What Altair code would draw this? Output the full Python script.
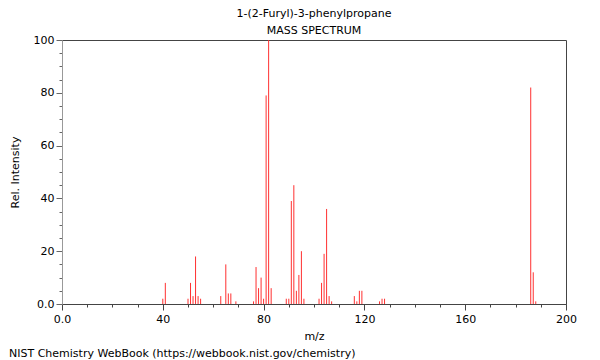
import altair as alt
import pandas as pd

mz = [40, 41, 50, 51, 52, 53, 54, 55, 63, 65, 66, 67, 69, 76, 77, 78, 79, 80, 81, 82, 83,
      89, 90, 91, 92, 93, 94, 95, 96, 102, 103, 104, 105, 106, 107, 116, 117, 118, 119,
      126, 127, 128, 186, 187, 188]
intensity = [2, 8, 2, 8, 3, 18, 3, 2, 3, 15, 4, 4, 1, 1, 14, 6, 10, 2, 79, 100, 6,
             2, 2, 39, 45, 5, 11, 20, 2, 2, 8, 19, 36, 3, 1, 3, 1, 5, 5,
             1, 2, 2, 82, 12, 1]

title_main = "1-(2-Furyl)-3-phenylpropane"
title_sub = "MASS SPECTRUM"
footer = "NIST Chemistry WebBook (https://webbook.nist.gov/chemistry)"

df = pd.DataFrame({"mz": mz, "intensity": intensity})
FONT = "DejaVu Sans"

x_axis = alt.Axis(
    values=list(range(0, 201, 10)),
    labelExpr="datum.value == 0 ? '0.0' : (datum.value % 40 == 0 ? datum.label : '')",
    tickSize={"condition": {"test": "datum.value % 40 == 0", "value": 6}, "value": 3},
    grid=False, domainColor="#444", tickColor="#444", labelFont=FONT, labelFontSize=11,
    labelColor="#000", titleFont=FONT, titleFontSize=11, titleFontWeight="normal",
    titleColor="#000", labelPadding=3, titlePadding=6, labelFlush=False,
)
y_axis = alt.Axis(
    values=list(range(0, 101, 5)),
    labelExpr="datum.value == 0 ? '0.0' : (datum.value % 20 == 0 ? datum.label : '')",
    tickSize={"condition": {"test": "datum.value % 20 == 0", "value": 6}, "value": 3},
    grid=False, domainColor="#999", tickColor="#666", labelFont=FONT, labelFontSize=11,
    labelColor="#000", titleFont=FONT, titleFontSize=11, titleFontWeight="normal",
    titleColor="#000", labelPadding=2, titlePadding=13, labelFlush=False,
)

bars = alt.Chart(df).mark_rule(color="#ff3030", strokeWidth=1).encode(
    x=alt.X("mz:Q", scale=alt.Scale(domain=[0, 200], nice=False, zero=False), axis=x_axis, title="m/z"),
    y=alt.Y("intensity:Q", scale=alt.Scale(domain=[0, 100], nice=False), axis=y_axis, title="Rel. Intensity"),
    y2=alt.datum(0),
)

foot = alt.Chart(pd.DataFrame({"t": [footer]})).mark_text(
    align="left", baseline="alphabetic", font=FONT, fontSize=11, color="#000"
).encode(x=alt.value(-53), y=alt.value(317), text="t:N")

chart = alt.layer(bars, foot).properties(
    width=504, height=264,
    autosize=alt.AutoSizeParams(type="none"),
    padding={"left": 54, "top": 32, "right": 26, "bottom": 56},
    title=alt.TitleParams(
        text=title_main, subtitle=title_sub, anchor="middle", font=FONT, fontSize=11,
        fontWeight="normal", color="#000", subtitleFont=FONT, subtitleFontSize=11,
        subtitleColor="#000", subtitlePadding=6, offset=-2,
    ),
).configure_view(stroke="#444", strokeWidth=1)

chart.save("out.html", embed_options={"renderer": "svg", "actions": False})
